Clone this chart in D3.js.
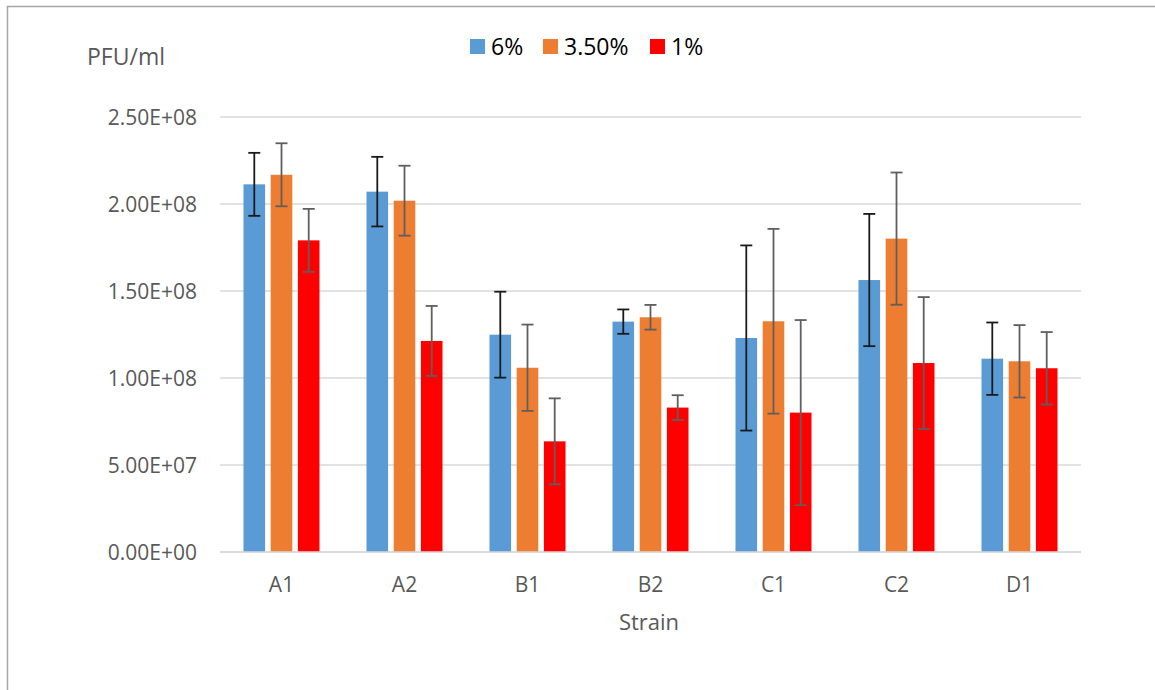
<!DOCTYPE html>
<html>
<head>
<meta charset="utf-8">
<script src="https://cdn.jsdelivr.net/npm/d3@7/dist/d3.min.js"></script>
<style>
  html, body { margin: 0; padding: 0; background: #fff; }
  svg { display: block; font-family: "Open Sans", sans-serif; }
</style>
</head>
<body>
<svg id="chart" width="1155" height="690"></svg>
<script>
const categories = ["A1", "A2", "B1", "B2", "C1", "C2", "D1"];
const seriesNames = ["6%", "3.50%", "1%"];
const values6 = [2.113e8, 2.071e8, 1.249e8, 1.324e8, 1.230e8, 1.563e8, 1.111e8];
const errors6 = [0.181e8, 0.200e8, 0.247e8, 0.070e8, 0.532e8, 0.380e8, 0.208e8];
const values35 = [2.168e8, 2.019e8, 1.059e8, 1.349e8, 1.326e8, 1.801e8, 1.096e8];
const errors35 = [0.181e8, 0.201e8, 0.248e8, 0.071e8, 0.531e8, 0.380e8, 0.208e8];
const values1 = [1.791e8, 1.213e8, 0.636e8, 0.830e8, 0.801e8, 1.086e8, 1.056e8];
const errors1 = [0.181e8, 0.201e8, 0.247e8, 0.071e8, 0.532e8, 0.379e8, 0.208e8];
const yTicks = [0, 5e7, 1e8, 1.5e8, 2e8, 2.5e8];
const yTickLabels = ["0.00E+00", "5.00E+07", "1.00E+08", "1.50E+08", "2.00E+08", "2.50E+08"];

const seriesColors = ["#5b9bd5", "#ed7d31", "#ff0000"];
const errColors = ["#1a1a1a", "#5f5f5f", "#5f5f5f"];
const seriesValues = [values6, values35, values1];
const seriesErrors = [errors6, errors35, errors1];

const svg = d3.select("#chart");
const x0 = 220, x1 = 1081, yTop = 117, yBot = 552;

// chart border (top and left visible)
svg.append("path")
  .attr("d", `M7.5,690 L7.5,6.5 L1155,6.5`)
  .attr("fill", "none").attr("stroke", "#a6a6a6").attr("stroke-width", 1.5);

const x = d3.scaleBand().domain(categories).range([x0, x1]).paddingInner(0.382).paddingOuter(0.191);
const xs = d3.scaleBand().domain(seriesNames).range([0, x.bandwidth()]).paddingInner(0.206).paddingOuter(0);
const y = d3.scaleLinear().domain([0, 2.5e8]).range([yBot, yTop]);

// gridlines
svg.append("g").selectAll("line").data(yTicks).join("line")
  .attr("x1", x0).attr("x2", x1)
  .attr("y1", d => y(d)).attr("y2", d => y(d))
  .attr("stroke", "#d9d9d9").attr("stroke-width", 1.5);

// y axis labels
const yAxis = d3.axisLeft(y).tickValues(yTicks)
  .tickFormat((d, i) => yTickLabels[i]).tickSize(0).tickPadding(0);
const gy = svg.append("g").attr("transform", `translate(197,0)`).call(yAxis);
gy.select(".domain").remove();
gy.selectAll("text").attr("font-size", 21).attr("fill", "#595959")
  .attr("font-family", "Open Sans, sans-serif").attr("dy", "0.36em");

// bars
const data = [];
categories.forEach((c, ci) => {
  seriesNames.forEach((s, si) => {
    data.push({ c, s, si, v: seriesValues[si][ci], e: seriesErrors[si][ci] });
  });
});

svg.append("g").selectAll("rect").data(data).join("rect")
  .attr("x", d => x(d.c) + xs(d.s))
  .attr("y", d => y(d.v))
  .attr("width", xs.bandwidth())
  .attr("height", d => y(0) - y(d.v))
  .attr("fill", d => seriesColors[d.si]);

// baseline axis
svg.append("line").attr("x1", x0).attr("x2", x1).attr("y1", y(0)).attr("y2", y(0))
  .attr("stroke", "#d9d9d9").attr("stroke-width", 1.5);

// error bars
const eg = svg.append("g").selectAll("g").data(data).join("g")
  .attr("stroke", d => errColors[d.si]).attr("stroke-width", 1.8).attr("fill", "none");
const cx = d => x(d.c) + xs(d.s) + xs.bandwidth() / 2;
eg.append("line").attr("x1", cx).attr("x2", cx)
  .attr("y1", d => y(d.v + d.e)).attr("y2", d => y(d.v - d.e));
eg.append("line").attr("x1", d => cx(d) - 6).attr("x2", d => cx(d) + 6)
  .attr("y1", d => y(d.v + d.e)).attr("y2", d => y(d.v + d.e));
eg.append("line").attr("x1", d => cx(d) - 6).attr("x2", d => cx(d) + 6)
  .attr("y1", d => y(d.v - d.e)).attr("y2", d => y(d.v - d.e));

// x axis labels
const xAxis = d3.axisBottom(x).tickSize(0).tickPadding(0);
const gx = svg.append("g").attr("transform", `translate(0,${yBot})`).call(xAxis);
gx.select(".domain").remove();
gx.selectAll("text").attr("font-size", 21).attr("fill", "#595959")
  .attr("font-family", "Open Sans, sans-serif").attr("dy", null).attr("y", 39.5);

// axis titles
svg.append("text").attr("x", 649).attr("y", 630).attr("text-anchor", "middle")
  .attr("font-size", 22).attr("fill", "#595959").text("Strain");
svg.append("text").attr("x", 87).attr("y", 65).attr("text-anchor", "start")
  .attr("font-size", 23).attr("fill", "#595959").text("PFU/ml");

// legend
const legendX = [470, 543, 650];
const lg = svg.append("g").selectAll("g").data(seriesNames).join("g")
  .attr("transform", (d, i) => `translate(${legendX[i]},39)`);
lg.append("rect").attr("width", 15).attr("height", 15).attr("fill", (d, i) => seriesColors[i]);
lg.append("text").attr("x", 21).attr("y", 16).attr("font-size", 23).attr("fill", "#000").text(d => d);
</script>
</body>
</html>
